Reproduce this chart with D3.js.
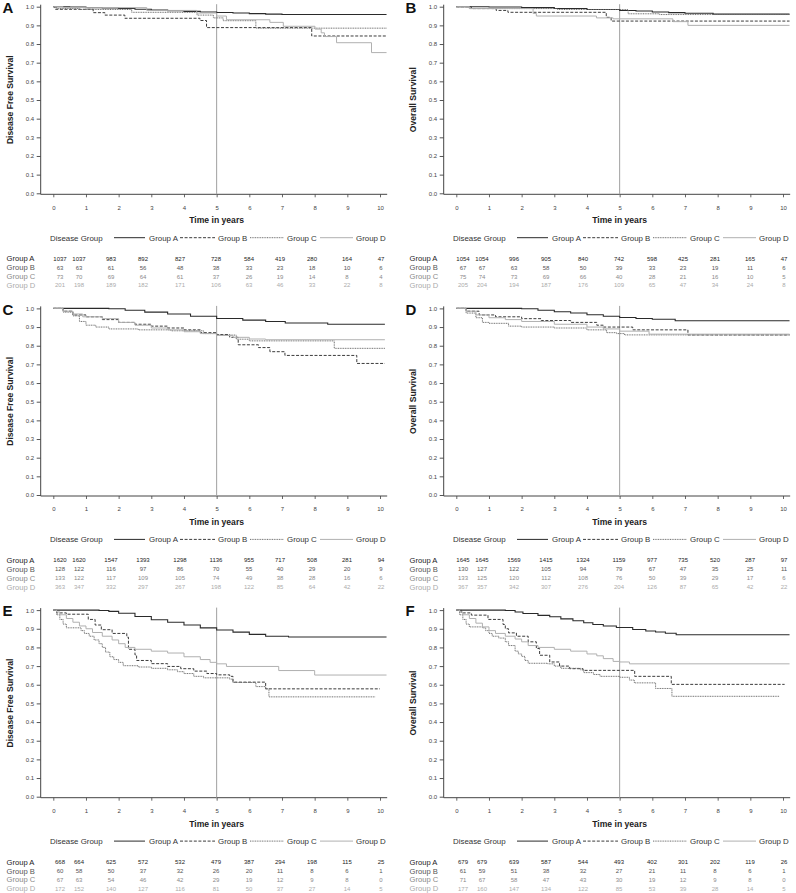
<!DOCTYPE html>
<html><head><meta charset="utf-8">
<script src="https://cdn.jsdelivr.net/npm/d3@7"></script>
<style>
body{margin:0;background:#fff}
svg{display:block}
text{font-family:"Liberation Sans",Arial,Helvetica,sans-serif}
</style>
</head><body>
<svg id="chart" width="796" height="893"></svg>
<script>
// ---------------- DATA ----------------
const groups = ["Group A","Group B","Group C","Group D"];
const timeTicks = [0,1,2,3,4,5,6,7,8,9,10];
const survTicks = [0,0.1,0.2,0.3,0.4,0.5,0.6,0.7,0.8,0.9,1.0];
const panelLetters = ["A","B","C","D","E","F"];
const panelYLabels = ["Disease Free Survival","Overall Survival","Disease Free Survival","Overall Survival","Disease Free Survival","Overall Survival"];
const landmarkYear = 5;

// Kaplan-Meier step curves: [time in years, survival]
const pA_A = [[0,1],[0.5,0.998],[1,0.995],[1.5,0.993],[2,0.99],[2.5,0.986],[3,0.982],[3.5,0.978],[4,0.975],[4.5,0.972],[5,0.969],[5.5,0.966],[6,0.963],[6.5,0.96],[7,0.958],[10.2,0.958]];
const pA_B = [[0,1],[0.05,0.986],[1.22,0.968],[1.58,0.955],[2.19,0.938],[4.49,0.926],[4.69,0.888],[7.91,0.843],[10.2,0.843]];
const pA_C = [[0,1],[0.1,0.99],[0.8,0.985],[2.4,0.97],[4.4,0.955],[4.9,0.94],[5.2,0.925],[6.2,0.885],[10.2,0.885]];
const pA_D = [[0,1],[0.3,0.995],[2.86,0.98],[4.39,0.966],[5.0,0.95],[5.3,0.93],[6.63,0.916],[7.04,0.895],[8.01,0.88],[8.2,0.86],[8.3,0.84],[8.67,0.807],[9.74,0.754],[10.2,0.754]];

const pB_A = [[0,1],[1,0.998],[2,0.995],[3,0.99],[4,0.985],[5,0.98],[5.5,0.977],[6,0.972],[6.5,0.968],[7,0.965],[7.86,0.96],[10.2,0.96]];
const pB_B = [[0,1],[0.46,0.99],[1.22,0.98],[1.58,0.97],[4.59,0.943],[4.74,0.923],[10.2,0.923]];
const pB_C = [[0,1],[0.4,0.99],[3.1,0.985],[5.26,0.962],[6.22,0.958],[10.2,0.958]];
const pB_D = [[0,1],[0.4,0.99],[2.35,0.964],[2.45,0.95],[4.29,0.94],[4.8,0.935],[6.63,0.92],[7.09,0.9],[10.2,0.9]];

const pC_A = [[0,1],[1.7,0.998],[2.2,0.99],[2.8,0.98],[3.5,0.97],[4.2,0.958],[5,0.946],[5.8,0.937],[6.5,0.93],[7.1,0.922],[8.4,0.915],[10.15,0.915]];
const pC_B = [[0,1],[0.3,0.985],[0.6,0.965],[1.0,0.955],[1.5,0.94],[2.0,0.925],[2.5,0.915],[3.0,0.905],[3.5,0.895],[4.0,0.885],[4.5,0.87],[5.0,0.86],[5.4,0.845],[5.66,0.805],[6.28,0.79],[6.63,0.768],[7.09,0.748],[9.29,0.705],[10.15,0.705]];
const pC_C = [[0,1],[0.3,0.98],[0.6,0.96],[0.8,0.93],[1.0,0.91],[1.3,0.9],[1.7,0.89],[2.6,0.885],[3.6,0.88],[4.6,0.865],[5.0,0.857],[5.6,0.835],[6.0,0.826],[8.6,0.786],[10.15,0.786]];
const pC_D = [[0,1],[0.3,0.985],[0.6,0.97],[0.9,0.955],[1.5,0.945],[2.0,0.925],[2.5,0.91],[3.0,0.895],[3.5,0.885],[4.0,0.875],[4.5,0.865],[5.0,0.855],[5.5,0.845],[6.0,0.836],[6.5,0.832],[10.15,0.832]];

const pD_A = [[0,1],[2.0,0.998],[2.5,0.99],[3,0.982],[3.5,0.975],[4,0.966],[4.5,0.958],[5,0.951],[5.5,0.946],[6,0.942],[6.7,0.934],[10.2,0.934]];
const pD_B = [[0,1],[0.3,0.985],[0.7,0.965],[1.2,0.955],[2.0,0.945],[2.6,0.935],[3.5,0.925],[4.3,0.91],[4.5,0.9],[5.4,0.885],[7.09,0.858],[10.2,0.858]];
const pD_C = [[0,1],[0.3,0.975],[0.6,0.95],[0.8,0.925],[1.0,0.92],[1.6,0.905],[2.0,0.9],[3.0,0.895],[4.0,0.885],[4.6,0.87],[4.9,0.865],[5.15,0.858],[10.2,0.858]];
const pD_D = [[0,1],[0.3,0.985],[0.6,0.965],[1.0,0.95],[1.5,0.94],[2.0,0.93],[3.0,0.915],[4.0,0.9],[4.5,0.89],[5.0,0.878],[5.9,0.862],[10.2,0.862]];

const pE_A = [[0,1],[1.4,0.998],[1.7,0.993],[2.0,0.983],[2.5,0.966],[3.0,0.948],[3.5,0.935],[4.0,0.92],[4.5,0.905],[5.0,0.893],[5.5,0.882],[6.0,0.87],[6.5,0.86],[7.2,0.856],[10.2,0.856]];
const pE_B = [[0,1],[0.1,0.985],[0.4,0.978],[1.07,0.95],[1.28,0.92],[1.47,0.895],[1.8,0.875],[2.25,0.855],[2.3,0.79],[2.5,0.76],[2.55,0.73],[3.0,0.713],[3.5,0.698],[3.9,0.686],[4.3,0.673],[4.7,0.66],[5.0,0.653],[5.4,0.645],[5.5,0.614],[6.5,0.578],[10.0,0.578]];
const pE_C = [[0,1],[0.1,0.975],[0.2,0.95],[0.3,0.925],[0.4,0.905],[0.85,0.89],[0.95,0.875],[1.1,0.86],[1.25,0.84],[1.4,0.82],[1.5,0.8],[1.6,0.775],[1.73,0.75],[1.85,0.735],[2.0,0.72],[2.14,0.702],[2.6,0.695],[3.0,0.688],[3.5,0.68],[3.8,0.67],[4.0,0.66],[4.3,0.645],[4.6,0.637],[5.4,0.63],[5.5,0.612],[6.2,0.59],[6.5,0.578],[6.6,0.535],[9.85,0.535]];
const pE_D = [[0,1],[0.1,0.99],[0.2,0.975],[0.4,0.955],[0.6,0.935],[0.8,0.915],[1.0,0.9],[1.2,0.88],[1.5,0.86],[1.8,0.84],[2.0,0.82],[2.2,0.8],[2.5,0.79],[3.0,0.78],[3.5,0.77],[4.0,0.75],[4.5,0.735],[4.8,0.72],[5.0,0.712],[5.3,0.698],[6.9,0.676],[8.0,0.652],[10.2,0.652]];

const pF_A = [[0,1],[1.5,0.998],[1.8,0.99],[2.04,0.982],[2.5,0.972],[2.86,0.964],[3.2,0.953],[3.57,0.943],[3.9,0.932],[4.18,0.923],[4.5,0.915],[4.9,0.907],[5.4,0.896],[5.8,0.888],[6.1,0.883],[6.4,0.876],[6.73,0.868],[10.2,0.868]];
const pF_B = [[0,1],[0.15,0.985],[0.46,0.973],[0.97,0.95],[1.43,0.923],[1.5,0.9],[1.6,0.878],[1.84,0.86],[2.2,0.83],[2.45,0.794],[2.55,0.758],[2.86,0.722],[3.16,0.7],[3.47,0.686],[3.88,0.677],[5.46,0.645],[6.58,0.602],[10.05,0.602]];
const pF_C = [[0,1],[0.1,0.975],[0.2,0.95],[0.3,0.925],[0.4,0.91],[0.8,0.905],[0.9,0.89],[1.0,0.875],[1.1,0.86],[1.3,0.85],[1.5,0.83],[1.6,0.81],[1.8,0.78],[1.9,0.765],[2.0,0.752],[2.1,0.73],[2.2,0.715],[2.8,0.712],[3.0,0.7],[3.2,0.688],[3.8,0.68],[3.9,0.665],[4.2,0.655],[4.4,0.645],[5.0,0.64],[5.3,0.625],[5.45,0.61],[6.1,0.58],[6.6,0.538],[9.9,0.538]];
const pF_D = [[0,1],[0.1,0.99],[0.2,0.975],[0.4,0.955],[0.6,0.93],[0.8,0.91],[1.0,0.89],[1.2,0.875],[1.5,0.86],[1.8,0.845],[2.0,0.83],[2.2,0.81],[2.5,0.8],[3.0,0.79],[3.5,0.78],[4.0,0.765],[4.3,0.755],[4.5,0.74],[4.8,0.725],[5.0,0.722],[5.3,0.712],[10.2,0.712]];

// Numbers at risk (rows: Group A..D; columns: years 0..10)
const riskA = [[1037,1037,983,892,827,728,584,419,280,164,47],[63,63,61,56,48,38,33,23,18,10,6],[73,70,69,64,61,37,26,19,14,8,4],[201,198,189,182,171,106,63,46,33,22,8]];
const riskB = [[1054,1054,996,905,840,742,598,425,281,165,47],[67,67,63,58,50,39,33,23,19,11,6],[75,74,73,69,66,40,28,21,16,10,5],[205,204,194,187,176,109,65,47,34,24,8]];
const riskC = [[1620,1620,1547,1393,1298,1136,955,717,508,281,94],[128,122,116,97,86,70,55,40,29,20,9],[133,122,117,109,105,74,49,38,28,16,6],[363,347,332,297,267,198,122,85,64,42,22]];
const riskD = [[1645,1645,1569,1415,1324,1159,977,735,520,287,97],[130,127,122,105,94,79,67,47,35,25,11],[133,125,120,112,108,76,50,39,29,17,6],[367,357,342,307,276,204,126,87,65,42,22]];
const riskE = [[668,664,625,572,532,479,387,294,198,115,25],[60,58,50,37,32,26,20,11,8,6,1],[67,63,54,46,42,29,19,12,9,8,0],[172,152,140,127,116,81,50,37,27,14,5]];
const riskF = [[679,679,639,587,544,493,402,301,202,119,26],[61,59,51,38,32,27,21,11,8,6,1],[71,67,58,47,43,30,19,12,9,8,0],[177,160,147,134,122,85,53,39,28,14,5]];

// ---------------- STYLE / LAYOUT ----------------
const groupStroke = ["#2a2a2a","#3c3c3c","#6e6e6e","#b0b0b0"];
const groupDash = [null,"3,1.6","1,0.7",null];
const groupTextColor = ["#222","#555","#8a8a8a","#ababab"];
const tableColX = [60,79,111,143,180,216,249,280,312,347,381];
const legendLineX = [[114,145],[180,215],[250,284],[320,353]];
const legendTextX = [149,218,287,356];

const panelCurves = [[pA_A,pA_B,pA_C,pA_D],[pB_A,pB_B,pB_C,pB_D],[pC_A,pC_B,pC_C,pC_D],[pD_A,pD_B,pD_C,pD_D],[pE_A,pE_B,pE_C,pE_D],[pF_A,pF_B,pF_C,pF_D]];
const panelRisk = [riskA,riskB,riskC,riskD,riskE,riskF];

const svg = d3.select("#chart");
const FONT = '"Liberation Sans",Arial,Helvetica,sans-serif';

panelLetters.forEach((letter, i) => {
  const col = i % 2, row = Math.floor(i / 2);
  const ox = col * 403;
  const y1 = 6.7 + row * 301.7;
  const y0 = y1 + 186.6;
  const axisX = 40.7 + ox;
  const g = svg.append("g");

  const x = d3.scaleLinear().domain([0, 10]).range([53.3 + ox, 380 + ox]);
  const y = d3.scaleLinear().domain([0, 1]).range([y0, y1]);

  // panel letter
  g.append("text").attr("x", 2.5 + ox).attr("y", y1 + 6.3)
    .attr("font-size", 15).attr("font-weight", "bold").attr("fill", "#111").text(letter);

  // y label
  g.append("text").attr("transform", `translate(${13 + ox},${y1 + 93}) rotate(-90)`)
    .attr("text-anchor", "middle").attr("font-size", 8.6).attr("font-weight", "bold")
    .attr("fill", "#222").text(panelYLabels[i]);

  // y axis
  const yAxis = d3.axisLeft(y).tickValues(survTicks).tickFormat(d3.format(".1f")).tickSize(4).tickPadding(2.5);
  const ya = g.append("g").attr("transform", `translate(${axisX},0)`).call(yAxis);
  ya.select(".domain").remove();
  ya.selectAll(".tick line").attr("stroke", "#555");
  ya.selectAll(".tick text").attr("font-size", 6).attr("fill", "#444").attr("font-family", FONT);
  g.append("line").attr("x1", axisX).attr("x2", axisX).attr("y1", y1 - 2).attr("y2", y0 + 1)
    .attr("stroke", "#444").attr("stroke-width", 1);

  // x axis
  const xAxis = d3.axisBottom(x).tickValues(timeTicks).tickFormat(d3.format("d")).tickSize(3).tickPadding(8);
  const xa = g.append("g").attr("transform", `translate(0,${y0 + 1})`).call(xAxis);
  xa.select(".domain").remove();
  xa.selectAll(".tick line").attr("stroke", "#666");
  xa.selectAll(".tick text").attr("font-size", 6).attr("fill", "#444").attr("font-family", FONT);
  g.append("line").attr("x1", axisX).attr("x2", x(10.22)).attr("y1", y0 + 1).attr("y2", y0 + 1)
    .attr("stroke", "#444").attr("stroke-width", 1);

  // landmark line
  g.append("line").attr("x1", x(landmarkYear)).attr("x2", x(landmarkYear))
    .attr("y1", y1 - 2.5).attr("y2", y0 + 1).attr("stroke", "#a0a0a0").attr("stroke-width", 1);

  // curves
  const line = d3.line().x(d => x(d[0])).y(d => y(d[1])).curve(d3.curveStepAfter);
  panelCurves[i].forEach((data, k) => {
    g.append("path").attr("d", line(data)).attr("fill", "none")
      .attr("stroke", groupStroke[k]).attr("stroke-width", k === 0 ? 1.1 : 1)
      .attr("stroke-dasharray", groupDash[k]);
  });

  // x title
  g.append("text").attr("x", x(5)).attr("y", y1 + 216.5).attr("text-anchor", "middle")
    .attr("font-size", 8.6).attr("font-weight", "bold").attr("fill", "#222").text("Time in years");

  // legend
  const ly = y1 + 231;
  g.append("text").attr("x", 50 + ox).attr("y", ly + 2.8).attr("font-size", 7.9).attr("fill", "#333").text("Disease Group");
  groups.forEach((gr, k) => {
    g.append("line").attr("x1", legendLineX[k][0] + ox).attr("x2", legendLineX[k][1] + ox)
      .attr("y1", ly).attr("y2", ly).attr("stroke", groupStroke[k]).attr("stroke-width", 1)
      .attr("stroke-dasharray", groupDash[k]);
    g.append("text").attr("x", legendTextX[k] + ox).attr("y", ly + 2.8).attr("font-size", 7.9)
      .attr("fill", "#333").text(gr);
  });

  // risk table
  panelRisk[i].forEach((rowVals, k) => {
    const ry = y1 + 251.8 + k * 8.9;
    g.append("text").attr("x", 6.5 + ox).attr("y", ry + 2.7).attr("font-size", 7.6)
      .attr("fill", groupTextColor[k]).text(groups[k]);
    rowVals.forEach((v, c) => {
      g.append("text").attr("x", tableColX[c] + ox).attr("y", ry + 2.2).attr("text-anchor", "middle")
        .attr("font-size", 6).attr("fill", groupTextColor[k]).text(v);
    });
  });
});
</script>
</body></html>
